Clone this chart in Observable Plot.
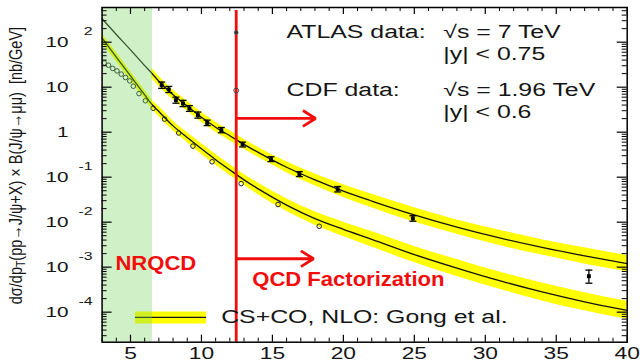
<!DOCTYPE html>
<html>
<head>
<meta charset="utf-8">
<script src="https://cdn.jsdelivr.net/npm/d3@7"></script>
<script src="https://cdn.jsdelivr.net/npm/@observablehq/plot@0.6"></script>
<style>
  html, body { margin: 0; padding: 0; background: #fff; }
  #chart svg { display: block; }
</style>
</head>
<body>
<div id="chart"></div>
<script>
// ---- CS+CO NLO predictions (nb/GeV) on a common pT grid (GeV) ----
const pTGrid = [3, 4, 5, 6, 6.5, 7, 8, 9, 10, 11, 12, 13, 14, 16, 18, 20, 22, 25, 28, 31, 34, 37, 40];
const atlasTheory = [331, 148, 67.6, 30.2, 20.4, 13.5, 6.76, 3.80, 2.14, 1.29, 0.832, 0.537, 0.355,
  0.166, 0.0871, 0.0490, 0.0295, 0.0145, 0.00776, 0.00447, 0.00275, 0.00178, 0.00120];
// theory uncertainty, half-width in decades (no band below 6.5 GeV)
const atlasBand = [null, null, null, null, 0.11, 0.11, 0.11, 0.11, 0.11, 0.11, 0.11, 0.11, 0.11,
  0.12, 0.13, 0.14, 0.15, 0.16, 0.16, 0.17, 0.17, 0.18, 0.18];
const cdfTheory = [123, 46.8, 17.8, 6.76, 4.17, 2.88, 1.38, 0.759, 0.427, 0.245, 0.145, 0.0871, 0.0550,
  0.0240, 0.0120, 0.00692, 0.00417, 0.00191, 0.000955, 0.000501, 0.000282, 0.000170, 0.000110];
const cdfBand = [0.10, 0.10, 0.10, 0.10, 0.10, 0.11, 0.11, 0.11, 0.12, 0.12, 0.12, 0.12, 0.13,
  0.14, 0.15, 0.16, 0.17, 0.18, 0.19, 0.19, 0.20, 0.20, 0.20];

// ---- ATLAS data, sqrt(s) = 7 TeV, |y| < 0.75 ----
const atlasPT   = [7.2, 7.7, 8.2, 8.7, 9.15, 9.75, 10.4, 11.4, 12.9, 14.9, 16.9, 19.6, 24.9, 37.3];
const atlasXsec = [11.1, 8.9, 5.14, 4.34, 3.36, 2.39, 1.61, 1.11, 0.533, 0.251, 0.117, 0.054, 0.0121, 0.00063];
const atlasLow  = [9.4, 7.6, 4.4, 3.7, 2.9, 2.05, 1.40, 0.97, 0.47, 0.222, 0.103, 0.047, 0.0105, 0.00044];
const atlasHigh = [13.0, 10.4, 6.0, 5.1, 3.9, 2.8, 1.85, 1.27, 0.60, 0.284, 0.133, 0.062, 0.0139, 0.00086];

// ---- CDF data, sqrt(s) = 1.96 TeV, |y| < 0.6 ----
const cdfPT   = [3.15, 3.45, 3.75, 4.05, 4.35, 4.65, 4.95, 5.2, 5.6, 6.05, 6.6, 7.4, 8.4, 9.4, 10.75, 12.8, 15.4, 18.3];
const cdfXsec = [34.7, 30.8, 26.1, 23.0, 19.5, 16.4, 13.8, 10.5, 7.2, 5.0, 3.4, 1.95, 0.96, 0.49, 0.22, 0.072, 0.0247, 0.0081];

// ---- axis ticks ----
const xTickLabels = [5, 10, 15, 20, 25, 30, 35, 40];
const yDecades = [1e-4, 1e-3, 1e-2, 1e-1, 1, 10, 100];
const yBase = ["10", "10", "10", "10", "1", "10", "10"];
const yExp  = ["-4", "-3", "-2", "-1", "", "", "2"];

// ---- regions and annotations (data coordinates) ----
const nrqcdRegion = [{x1: 3, x2: 6.55}];
const factorizationPT = 12.45;
const arrows = [{x1: 12.45, x2: 18.04, y: 2.02}, {x1: 12.45, x2: 17.9, y: 0.00154}];
const keyMarkers = [{x: 12.45, y: 164, set: "ATLAS"}, {x: 12.45, y: 8.45, set: "CDF"}];
const infoText = [
  {x: 16.0, y: 169, text: "ATLAS data:"},
  {x: 27.04, y: 169, text: "√s = 7 TeV"},
  {x: 27.04, y: 53.3, text: "|y| < 0.75"},
  {x: 16.0, y: 8.45, text: "CDF data:"},
  {x: 27.04, y: 8.45, text: "√s = 1.96 TeV"},
  {x: 27.04, y: 2.74, text: "|y| < 0.6"}
];
const regionText = [
  {x: 3.94, y: 0.00124, text: "NRQCD"},
  {x: 13.58, y: 0.000547, text: "QCD Factorization"}
];
const legendKey = [{x1: 5.35, x2: 10.36, y: 7.62e-5}];
const legendText = [{x: 11.39, y: 7.62e-5, text: "CS+CO, NLO: Gong et al."}];
const yTitleHead = "dσ/dp";
const yTitleSub = "T";
const yTitleTail = "(pp→J/ψ+X) × B(J/ψ→μμ)  [nb/GeV]";

// ---- derived tables ----
const theoryRows = (c, w) => pTGrid.map((pT, i) => ({pT, c: c[i], w: w[i]}));
const bandRows = rows => rows.filter(d => d.w != null)
  .map(d => ({pT: d.pT, lo: d.c / 10 ** d.w, hi: d.c * 10 ** d.w}));
const atlasCurve = theoryRows(atlasTheory, atlasBand);
const cdfCurve = theoryRows(cdfTheory, cdfBand);
const atlasPts = atlasPT.map((pT, i) => ({pT, v: atlasXsec[i], lo: atlasLow[i], hi: atlasHigh[i]}));
const cdfPts = cdfPT.map((pT, i) => ({pT, v: cdfXsec[i]}));
const yTickRows = yDecades.map((v, i) => ({v, base: yBase[i], exp: yExp[i]}));

// tick positions
const xMinor = d3.range(3, 41).filter(v => v % 5 !== 0);
const yMinor = [];
for (let e = -5; e <= 2; e++) for (let k = 2; k <= 9; k++) {
  const v = k * 10 ** e;
  if (v > 2.15e-5 && v < 590) yMinor.push(v);
}

// ---- layout ----
const W = 643, H = 361;
const M = {top: 7, right: 16.3, bottom: 19.3, left: 101.6};
const frameW = W - M.left - M.right;
const frameH = H - M.top - M.bottom;
const WIDE = 1.38;          // horizontal glyph stretch for the figure's regular text
const WIDE_BOLD = 1.05;     // slight stretch for the bold region labels
const ink = "#151515";
const red = "#f20d0d";
const yellow = "#ffff00";
const font = "'Liberation Sans', Arial, Helvetica, sans-serif";

const capSymbol = {
  draw(ctx, size) {
    const w = Math.sqrt(size / Math.PI);
    ctx.moveTo(-w, 0);
    ctx.lineTo(w, 0);
  }
};

const svg = Plot.plot({
  width: W,
  height: H,
  marginTop: M.top,
  marginRight: M.right,
  marginBottom: M.bottom,
  marginLeft: M.left,
  style: {fontFamily: font, background: "#fff", overflow: "visible"},
  x: {type: "linear", domain: [3, 40], axis: null},
  y: {type: "log", domain: [2.15e-5, 590], axis: null},
  marks: [
    // theory bands and central curves
    Plot.areaY(bandRows(cdfCurve), {x: "pT", y1: "lo", y2: "hi", fill: yellow, curve: "monotone-x"}),
    Plot.areaY(bandRows(atlasCurve), {x: "pT", y1: "lo", y2: "hi", fill: yellow, curve: "monotone-x"}),
    Plot.line(cdfCurve, {x: "pT", y: "c", stroke: ink, strokeWidth: 1.3, curve: "monotone-x"}),
    Plot.line(atlasCurve, {x: "pT", y: "c", stroke: ink, strokeWidth: 1.3, curve: "monotone-x"}),

    // CDF: open circles
    Plot.dot(cdfPts, {x: "pT", y: "v", r: 2.3, stroke: "#222", strokeWidth: 1, fill: "none"}),

    // ATLAS: filled markers with error bars
    Plot.ruleX(atlasPts, {x: "pT", y1: "lo", y2: "hi", stroke: "#000", strokeWidth: 1.3}),
    Plot.dot(atlasPts, {x: "pT", y: "lo", symbol: capSymbol, r: 3.5, stroke: "#000", strokeWidth: 1.3}),
    Plot.dot(atlasPts, {x: "pT", y: "hi", symbol: capSymbol, r: 3.5, stroke: "#000", strokeWidth: 1.3}),
    Plot.dot(atlasPts, {x: "pT", y: "v", symbol: "square", r: 2.2, fill: "#000"}),

    // legend key
    Plot.ruleY(legendKey, {y: "y", x1: "x1", x2: "x2", stroke: yellow, strokeWidth: 12}),
    Plot.ruleY(legendKey, {y: "y", x1: "x1", x2: "x2", stroke: ink, strokeWidth: 1.3}),

    // NRQCD region shading
    Plot.rect(nrqcdRegion, {x1: "x1", x2: "x2", fill: "rgb(121,212,98)", fillOpacity: 0.35}),

    // factorization boundary and arrows
    Plot.ruleX([factorizationPT], {stroke: red, strokeWidth: 2.8, insetTop: 3}),
    Plot.arrow(arrows, {x1: "x1", x2: "x2", y1: "y", y2: "y", stroke: red, strokeWidth: 2.8,
      headLength: 8, headAngle: 64, strokeLinecap: "butt"}),

    // data-set markers beside the labels
    Plot.dot(keyMarkers.filter(d => d.set === "ATLAS"), {x: "x", y: "y", r: 1.9, fill: "#333", stroke: "#555", strokeWidth: 0.8}),
    Plot.dot(keyMarkers.filter(d => d.set === "CDF"), {x: "x", y: "y", r: 2.4, fill: "none", stroke: "#444", strokeWidth: 1}),

    // labels
    Plot.text(infoText, {x: "x", y: "y", text: "text", textAnchor: "start", fontSize: 18, fill: ink}),
    Plot.text(regionText, {x: "x", y: "y", text: "text", textAnchor: "start", fontSize: 21, fontWeight: "bold", fill: red}),
    Plot.text(legendText, {x: "x", y: "y", text: "text", textAnchor: "start", fontSize: 18, fill: ink}),

    // ticks inside the frame, on all four sides
    Plot.tickX(xTickLabels, {x: d => d, stroke: "#000", strokeWidth: 1.2, insetTop: frameH - 7}),
    Plot.tickX(xMinor, {x: d => d, stroke: "#000", strokeWidth: 1, insetTop: frameH - 4}),
    Plot.tickX(xTickLabels, {x: d => d, stroke: "#000", strokeWidth: 1.2, insetBottom: frameH - 7}),
    Plot.tickX(xMinor, {x: d => d, stroke: "#000", strokeWidth: 1, insetBottom: frameH - 4}),
    Plot.tickY(yDecades, {y: d => d, stroke: "#000", strokeWidth: 1.2, insetRight: frameW - 10}),
    Plot.tickY(yMinor, {y: d => d, stroke: "#000", strokeWidth: 1, insetRight: frameW - 5}),
    Plot.tickY(yDecades, {y: d => d, stroke: "#000", strokeWidth: 1.2, insetLeft: frameW - 10}),
    Plot.tickY(yMinor, {y: d => d, stroke: "#000", strokeWidth: 1, insetLeft: frameW - 5}),
    Plot.frame({stroke: "#000", strokeWidth: 1.5}),

    // tick labels
    Plot.text(xTickLabels, {x: d => d, frameAnchor: "bottom", dy: 11.3, text: d => String(d),
      lineAnchor: "middle", textAnchor: "middle", fontSize: 16.5, fill: ink}),
    Plot.text(yTickRows, {y: "v", frameAnchor: "left", dx: -33.6, text: "base", textAnchor: "end",
      lineAnchor: "middle", fontSize: 15, fill: ink}),
    Plot.text(yTickRows.filter(d => d.exp), {y: "v", frameAnchor: "left", dx: -9.6, dy: -11, text: "exp",
      textAnchor: "end", lineAnchor: "middle", fontSize: 11.5, fill: ink}),

    // y-axis title
    Plot.text([yTitleHead + yTitleSub + yTitleTail], {frameAnchor: "left", dx: -80.6, dy: -9.3, rotate: -90,
      textAnchor: "middle", lineAnchor: "bottom", text: d => d, fontSize: 14.5, fill: ink})
  ]
});

// widen text horizontally about each anchor point; the rotated y title is
// widened across its baseline and gets a subscript T
d3.select(svg).selectAll("text").each(function () {
  const g = this.parentNode;
  const t = this.getAttribute("transform") || "";
  if (g.getAttribute("font-weight") === "bold") {
    this.setAttribute("transform", `${t} scale(${WIDE_BOLD},1)`);
    return;
  }
  if (this.textContent.startsWith(yTitleHead)) {
    this.setAttribute("transform", `${t} scale(1,1.3)`);
    this.setAttribute("style", "white-space: pre");
    const sel = d3.select(this);
    sel.text(null);
    sel.append("tspan").text(yTitleHead);
    sel.append("tspan").attr("dy", 3).attr("font-size", 10.5).text(yTitleSub);
    sel.append("tspan").attr("dy", -3).text(yTitleTail);
    return;
  }
  this.setAttribute("transform", `${t} scale(${WIDE},1)`);
});

document.getElementById("chart").append(svg);
</script>
</body>
</html>
